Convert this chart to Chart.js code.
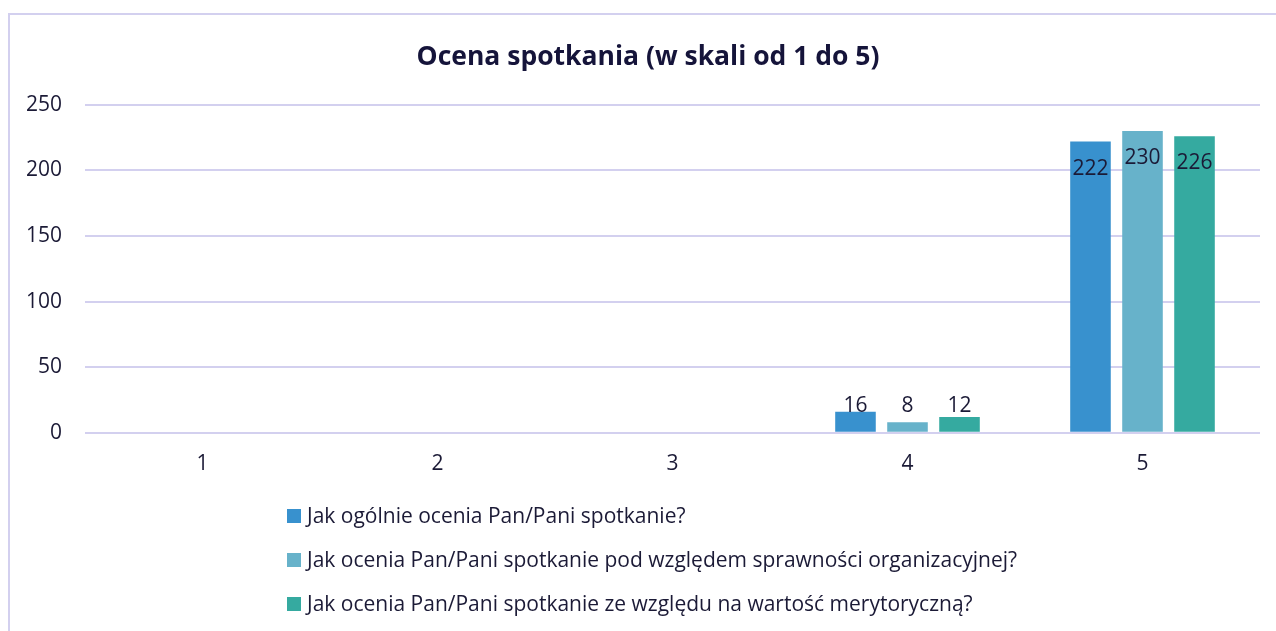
<!DOCTYPE html>
<html>
<head>
<meta charset="utf-8">
<script src="https://cdn.jsdelivr.net/npm/chart.js@4"></script>
<style>
  html, body { margin: 0; padding: 0; background: #fff; }
  #wrap { position: relative; width: 1276px; height: 631px; overflow: hidden; }
  #frame { position: absolute; left: 8px; top: 13px; width: 1300px; height: 700px;
           border-top: 2px solid #d3d0ef; border-left: 2px solid #d3d0ef; }
  #salesChart { position: absolute; left: 0; top: 0; }
  #legend { position: absolute; left: 287px; top: 501px; font-family: "Open Sans", sans-serif;
            font-size: 21px; color: #1b1a36; }
  .item { height: 44px; display: flex; align-items: flex-start; }
  .box { width: 14px; height: 14px; margin-top: 8px; margin-right: 6px; }
</style>
</head>
<body>
<div id="wrap">
  <div id="frame"></div>
  <canvas id="salesChart" width="1276" height="631"></canvas>
  <div id="legend"></div>
</div>
<script>
const ctx = document.getElementById('salesChart').getContext('2d');

// Dane
const labels = ['1', '2', '3', '4', '5'];
const ogolnie = [0, 0, 0, 16, 222];
const organizacja = [0, 0, 0, 8, 230];
const merytoryka = [0, 0, 0, 12, 226];
const seriesNames = [
    'Jak ogólnie ocenia Pan/Pani spotkanie?',
    'Jak ocenia Pan/Pani spotkanie pod względem sprawności organizacyjnej?',
    'Jak ocenia Pan/Pani spotkanie ze względu na wartość merytoryczną?'
];
const colors = ['#3891ce', '#67b2ca', '#35aaa0'];
const textColor = '#1b1a36';
const fontName = 'Open Sans';

// Etykiety wartości
const valueLabels = {
    id: 'valueLabels',
    afterLayout(chart) {
        // tytuł wyśrodkowany względem całej ramki, nie obszaru z paddingiem
        chart.titleBlock.right += 28;
    },
    afterDatasetsDraw(chart) {
        const c = chart.ctx;
        const zeroY = chart.scales.y.getPixelForValue(0);
        c.save();
        c.font = '21px "Open Sans"';
        c.fillStyle = textColor;
        c.textAlign = 'center';
        c.textBaseline = 'middle';
        chart.data.datasets.forEach((ds, i) => {
            chart.getDatasetMeta(i).data.forEach((bar, j) => {
                const v = ds.data[j];
                if (!v) return;
                const y = v > 100 ? bar.y + 27 : zeroY - 27;
                c.fillText(String(v), bar.x, y);
            });
        });
        c.restore();
    }
};

const config = {
    type: 'bar',
    data: {
        labels: labels,
        datasets: [ogolnie, organizacja, merytoryka].map((d, i) => ({
            label: seriesNames[i],
            data: d,
            backgroundColor: colors[i],
            categoryPercentage: 0.664,
            barPercentage: 0.78
        }))
    },
    options: {
        responsive: false,
        animation: false,
        layout: { padding: { left: 8, right: 16, top: 0, bottom: 135 } },
        plugins: {
            legend: { display: false },
            tooltip: { enabled: false },
            title: {
                display: true,
                text: 'Ocena spotkania (w skali od 1 do 5)',
                color: '#15143a',
                font: { family: fontName, size: 26.5, weight: 'bold', lineHeight: 1.2 },
                padding: { top: 42, bottom: 31 }
            }
        },
        scales: {
            x: {
                grid: { display: false, drawTicks: false },
                border: { display: false },
                ticks: { color: textColor, font: { family: fontName, size: 21 }, padding: 19 }
            },
            y: {
                min: 0,
                max: 250,
                afterFit(s) { s.width = 77; },
                grid: { color: '#d3d0ef', lineWidth: 2, drawTicks: false },
                border: { display: false },
                ticks: { stepSize: 50, color: textColor, font: { family: fontName, size: 21 }, padding: 23 }
            }
        }
    },
    plugins: [valueLabels]
};

new Chart(ctx, config);

// Legenda
const legend = document.getElementById('legend');
seriesNames.forEach((name, i) => {
    const row = document.createElement('div');
    row.className = 'item';
    row.innerHTML = '<span class="box" style="background:' + colors[i] + '"></span><span>' + name + '</span>';
    legend.appendChild(row);
});
</script>
</body>
</html>
